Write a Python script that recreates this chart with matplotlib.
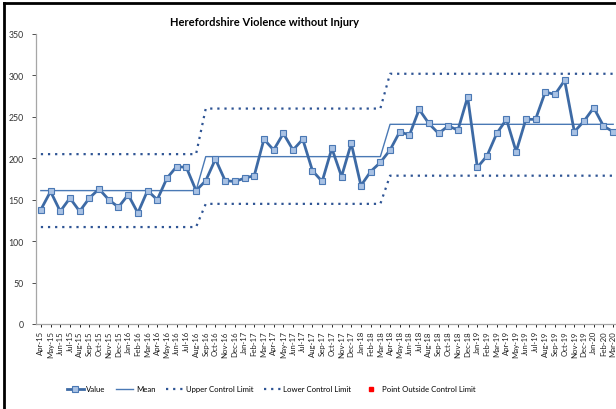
import numpy as np
import matplotlib.pyplot as plt

# Data
months = [
    "Apr-15", "May-15", "Jun-15", "Jul-15", "Aug-15", "Sep-15", "Oct-15", "Nov-15",
    "Dec-15", "Jan-16", "Feb-16", "Mar-16", "Apr-16", "May-16", "Jun-16", "Jul-16",
    "Aug-16", "Sep-16", "Oct-16", "Nov-16", "Dec-16", "Jan-17", "Feb-17", "Mar-17",
    "Apr-17", "May-17", "Jun-17", "Jul-17", "Aug-17", "Sep-17", "Oct-17", "Nov-17",
    "Dec-17", "Jan-18", "Feb-18", "Mar-18", "Apr-18", "May-18", "Jun-18", "Jul-18",
    "Aug-18", "Sep-18", "Oct-18", "Nov-18", "Dec-18", "Jan-19", "Feb-19", "Mar-19",
    "Apr-19", "May-19", "Jun-19", "Jul-19", "Aug-19", "Sep-19", "Oct-19", "Nov-19",
    "Dec-19", "Jan-20", "Feb-20", "Mar-20",
]
values = [
    138, 160, 136, 152, 136, 152, 163, 150, 141, 156, 134, 161, 150, 176, 190, 189,
    161, 173, 199, 173, 172, 176, 179, 223, 210, 230, 210, 223, 185, 172, 212, 178,
    218, 167, 184, 195, 210, 232, 228, 259, 242, 230, 239, 234, 274, 189, 203, 230,
    247, 208, 247, 247, 280, 277, 294, 232, 245, 261, 239, 232,
]
# process periods: (number of months, mean, upper limit, lower limit)
period_lengths = [17, 19, 24]
period_means = [161, 202, 241]
period_ucl = [205, 260, 302]
period_lcl = [117, 145, 179]

mean = np.repeat(period_means, period_lengths)
ucl = np.repeat(period_ucl, period_lengths)
lcl = np.repeat(period_lcl, period_lengths)
values = np.array(values)
x = np.arange(len(months))
outside = (values > ucl) | (values < lcl)

plt.rcParams["font.family"] = ["Lato", "DejaVu Sans"]

fig = plt.figure(figsize=(6.16, 4.10), dpi=100)
ax = fig.add_axes([36 / 616, 1 - 325 / 410, 582 / 616, 290 / 410])

ax.plot(x, values, color="#3D6AA5", lw=2, marker="s", ms=4.2,
        mfc="#A9C2E4", mec="#4A78B4", mew=0.8, label="Value", zorder=4)
ax.plot(x, mean, color="#4A79B5", lw=1, label="Mean", zorder=3)
ax.plot(x, ucl, color="#2E5494", lw=1.6, ls=(0, (1, 2.2)), label="Upper Control Limit")
ax.plot(x, lcl, color="#2E5494", lw=1.6, ls=(0, (1, 2.2)), label="Lower Control Limit")
ax.plot(x[outside], values[outside], ls="none", marker="s", ms=3, color="#FF0000",
        label="Point Outside Control Limit", zorder=5)

ax.set_xlim(-0.5, len(months) - 0.5)
ax.set_ylim(0, 350)
ax.set_yticks(np.arange(0, 351, 50))
ax.set_xticks(x)
ax.set_xticklabels(months, rotation=90, fontsize=5.6, color="#222222")
ax.tick_params(axis="y", labelsize=6.3, colors="#333333", length=3, width=0.6, pad=6)
ax.tick_params(axis="x", length=2.5, width=0.6, pad=2)
for s in ["top", "right"]:
    ax.spines[s].set_visible(False)
for s in ["left", "bottom"]:
    ax.spines[s].set_color("#A6A6A6")
    ax.spines[s].set_linewidth(0.9)

fig.text(0.43, 1 - 23 / 410, "Herefordshire Violence without Injury",
         ha="center", va="center", fontsize=8, fontweight="bold")

handles, labels = ax.get_legend_handles_labels()
handles[4] = plt.Line2D([], [], ls="none", marker="s", ms=2.5, color="#FF0000")
fig.legend(handles, labels, loc="center", bbox_to_anchor=(0.44, 1 - 390 / 410),
           ncol=5, frameon=False, fontsize=5.6, handlelength=2.2,
           columnspacing=1.4, handletextpad=0.3)

# chart frame
fig.add_artist(plt.Line2D([4 / 616, 4 / 616], [0, 1 - 4 / 410], color="black", lw=2))
fig.add_artist(plt.Line2D([4 / 616, 1], [1 - 4 / 410, 1 - 4 / 410], color="black", lw=2))

fig.savefig("out.png", dpi=100)
